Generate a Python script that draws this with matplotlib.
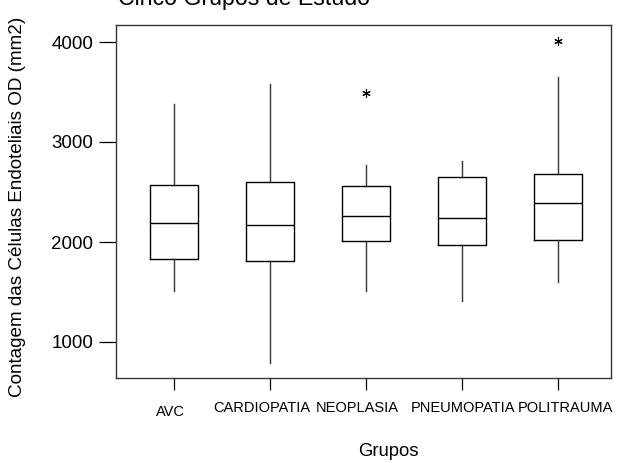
import matplotlib
matplotlib.use("Agg")
import matplotlib.pyplot as plt
import matplotlib.transforms as mtransforms

plt.rcParams['font.family'] = ['Liberation Sans', 'DejaVu Sans']

groups = ["AVC", "CARDIOPATIA", "NEOPLASIA", "PNEUMOPATIA", "POLITRAUMA"]
whisker_low = [1513, 793, 1513, 1413, 1603]
q1 = [1833, 1810, 2007, 1973, 2020]
median = [2187, 2170, 2263, 2240, 2387]
q3 = [2570, 2603, 2557, 2653, 2680]
whisker_high = [3380, 3580, 2770, 2810, 3647]
outliers = [[], [], [3493], [], [4013]]
yticks = [1000, 2000, 3000, 4000]

stats = []
for i, g in enumerate(groups):
    stats.append(dict(label=g, whislo=whisker_low[i], q1=q1[i], med=median[i],
                      q3=q3[i], whishi=whisker_high[i], fliers=outliers[i]))

fig = plt.figure(figsize=(6.17, 4.63), dpi=100)
W, H = 617, 463
ax = fig.add_axes([116 / W, 1 - 378 / H, (611 - 116) / W, (378 - 24.5) / H])

ax.bxp(stats, positions=range(1, 6), widths=0.5, showcaps=False,
       boxprops=dict(color='black', linewidth=1.0),
       medianprops=dict(color='black', linewidth=1.0),
       whiskerprops=dict(color='#333333', linewidth=1.0),
       flierprops=dict(marker=(6, 2, 0), markersize=6, markeredgecolor='black',
                       markeredgewidth=0.8, linestyle='none'))

ax.set_xlim(0.40, 5.555)
ax.set_ylim(640, 4175)
ax.set_yticks(yticks)
ax.set_yticklabels([str(v) for v in yticks], fontsize=13.5)
ax.set_xticks(range(1, 6))
ax.set_xticklabels(groups, fontsize=10.5)
ax.tick_params(axis='y', length=12, width=0.9, pad=4.5, direction='out')
ax.tick_params(axis='x', length=8.6, width=0.9, pad=8, direction='out')

# slight shifts of the x tick labels as in the reference
shifts_px = [-3, -8, -8, 1, 8]
vshift_px = [-4, 0, 0, 0, 0]
for lab, dx, dy in zip(ax.get_xticklabels(), shifts_px, vshift_px):
    off = mtransforms.ScaledTranslation(dx / 100, dy / 100, fig.dpi_scale_trans)
    lab.set_transform(lab.get_transform() + off)

for s in ax.spines.values():
    s.set_linewidth(1.0)
    s.set_color('#333333')

ax.set_ylabel("Contagem das Células Endoteliais OD (mm2)", fontsize=13.6)
ax.yaxis.set_label_coords((18 - 116) / 495, (378 - 207) / 353.5)
ax.set_xlabel("Grupos", fontsize=13.3)
ax.xaxis.set_label_coords(0.55, -(451 - 378) / 353.5)
ax.xaxis.label.set_va('center')
ax.yaxis.label.set_va('center')
fig.text(118 / W, 1 - 4.5 / H, "Cinco Grupos de Estudo", fontsize=16.7,
         ha='left', va='baseline')

fig.savefig("out.png", dpi=100, facecolor='white')
